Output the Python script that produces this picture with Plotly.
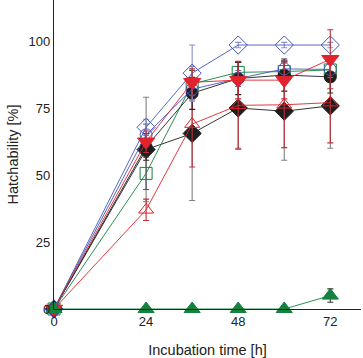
import plotly.graph_objects as go

time_h = [0, 24, 36, 48, 60, 72]

blue_diamond = [0, 67.8, 88, 98.5, 98.5, 98.5]
blue_diamond_err = [0, 3, 10.5, 1, 1, 1]

blue_circle = [0, 65, 82, 86, 89.6, 89.4]
blue_circle_err = [0, 4, 4, 3, 3, 3]

green_square = [0, 50.6, 84, 88.3, 88.6, 89.2]
green_square_err = [0, 6, 5, 4, 4, 4]

red_invtri = [0, 62.4, 84.6, 85.4, 85.4, 93.2]
red_invtri_err = [0, 4, 5, 7, 7, 11]

black_circle = [0, 60.5, 80.5, 86, 87.3, 86.6]
black_circle_err = [0, 5, 6, 6, 6, 6]

black_diamond = [0, 59.5, 65.5, 75, 73.8, 75.8]
black_diamond_err = [0, 19.5, 25, 15.5, 18.3, 15.8]

red_opentri = [0, 37, 69, 76, 76.2, 77]
red_opentri_err = [0, 4, 16, 16, 16, 15]

green_tri = [0, 0, 0, 0, 0, 5]
green_tri_err = [0, 0, 0, 0, 0, 2.5]

BLUE = "#4657b8"
GREEN = "#13833f"
RED = "#e0232c"
BLACK = "#1e1e1e"

series = [
    ("black diamond", black_diamond, black_diamond_err, BLACK, "diamond", 14, "#808080"),
    ("red open triangle", red_opentri, red_opentri_err, RED, "triangle-up-open", 13, "#b83038"),
    ("green square", green_square, green_square_err, GREEN, "square-open", 12, "#555555"),
    ("black circle", black_circle, black_circle_err, BLACK, "circle", 12, "#3a2020"),
    ("blue circle", blue_circle, blue_circle_err, BLUE, "circle-open", 12, "#6a6aa0"),
    ("blue diamond", blue_diamond, blue_diamond_err, BLUE, "diamond-open", 14, "#8890c8"),
    ("red inv triangle", red_invtri, red_invtri_err, RED, "triangle-down", 15, "#b83038"),
    ("green triangle", green_tri, green_tri_err, GREEN, "triangle-up", 14, "#333333"),
]

fig = go.Figure()
for name, ys, errs, col, sym, size, ecol in series:
    fig.add_trace(go.Scatter(
        x=time_h, y=ys, name=name, mode="lines+markers",
        line=dict(color=col, width=0.9),
        marker=dict(symbol=sym, size=size, color=col,
                    line=dict(color=col, width=1)),
        error_y=dict(type="data", array=errs, color=ecol, thickness=1.1, width=3),
        cliponaxis=False,
    ))

fig.update_layout(
    width=363, height=358,
    margin=dict(l=54, r=2, t=0, b=49),
    plot_bgcolor="white", paper_bgcolor="white",
    showlegend=False,
    font=dict(family="Liberation Sans, Arial, sans-serif", size=13, color="#222"),
)
fig.update_xaxes(
    range=[0, 80], tickvals=[0, 24, 48, 72], showgrid=False, zeroline=False,
    showline=True, linecolor="#222", linewidth=1.2, ticks="", automargin=False,
    title=dict(text="Incubation time [h]", font=dict(size=14.5), standoff=17),
)
fig.update_yaxes(
    range=[0, 115.3], tickvals=[0, 25, 50, 75, 100], showgrid=False, zeroline=False,
    showline=True, linecolor="#222", linewidth=1.2, ticks="", automargin=False,
    title=dict(text="Hatchability [%]", font=dict(size=14.5), standoff=6),
)
fig.write_html("out.html", config={"displayModeBar": False},
               post_script="document.body.style.margin='0';document.body.style.overflow='hidden';")
